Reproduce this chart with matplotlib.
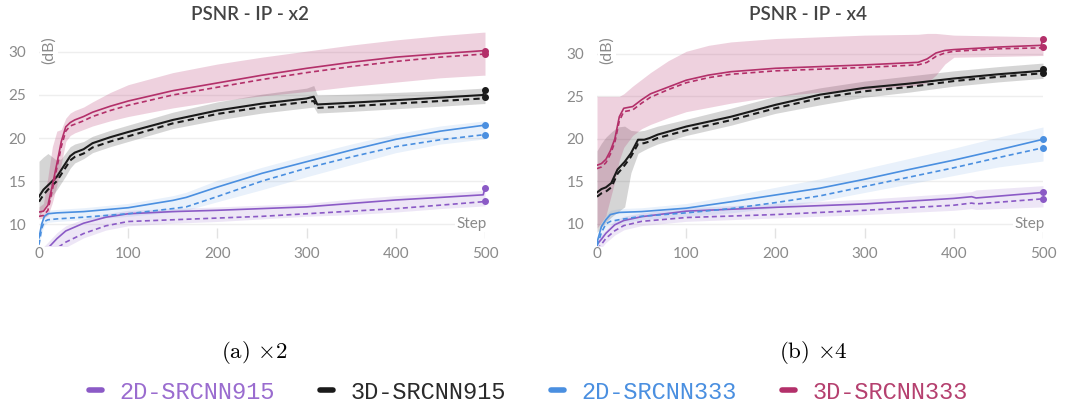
import matplotlib
matplotlib.use('Agg')
import matplotlib.pyplot as plt
from matplotlib.lines import Line2D

plt.rcParams['font.family'] = ['Lato', 'DejaVu Sans']
plt.rcParams['mathtext.fontset'] = 'cm'

# ---- data (x2 panel) ----
x2_crimson_steps = [0, 5, 10, 15, 20, 25, 30, 35, 40, 50, 60, 80, 100, 150, 200, 250, 300, 350, 400, 450, 498, 500]
x2_crimson_solid = [11.4, 11.5, 12.2, 14.5, 17.0, 19.6, 21.3, 21.8, 22.1, 22.5, 23.0, 23.7, 24.3, 25.5, 26.4, 27.3, 28.1, 28.8, 29.4, 29.8, 30.15, 30.15]
x2_crimson_dashed = [10.9, 11.0, 11.6, 14.0, 16.5, 19.0, 20.8, 21.4, 21.6, 22.0, 22.5, 23.2, 23.8, 25.0, 25.9, 26.8, 27.6, 28.3, 28.9, 29.4, 29.75, 29.75]
x2_crimson_lo = [10.6, 10.7, 11.0, 12.5, 14.5, 17.0, 19.6, 20.3, 20.6, 21.0, 21.4, 22.0, 22.5, 23.5, 24.3, 24.9, 25.4, 26.0, 26.5, 27.0, 27.3, 27.3]
x2_crimson_hi = [12.0, 12.4, 15.5, 19.0, 20.8, 21.0, 22.3, 22.9, 23.2, 23.6, 24.2, 25.3, 26.2, 27.6, 28.6, 29.4, 30.1, 30.8, 31.4, 31.9, 32.3, 32.3]

x2_black_steps = [0, 5, 10, 15, 20, 25, 30, 35, 40, 50, 60, 80, 100, 150, 200, 250, 300, 308, 312, 350, 400, 450, 498, 500]
x2_black_solid = [13.2, 14.0, 14.5, 15.0, 15.5, 16.3, 17.1, 17.9, 18.3, 18.7, 19.4, 20.1, 20.7, 22.1, 23.2, 24.0, 24.6, 24.8, 23.9, 24.1, 24.4, 24.7, 25.0, 25.6]
x2_black_dashed = [12.6, 13.4, 14.0, 14.5, 15.0, 15.8, 16.6, 17.4, 17.8, 18.2, 18.9, 19.6, 20.2, 21.7, 22.8, 23.6, 24.2, 24.3, 23.5, 23.7, 24.0, 24.3, 24.6, 24.8]
x2_black_lo = [10.8, 11.8, 12.6, 13.3, 14.0, 14.8, 15.6, 16.5, 17.1, 17.6, 18.3, 19.0, 19.6, 21.1, 22.1, 22.9, 23.5, 23.6, 22.9, 23.1, 23.4, 23.7, 24.0, 24.0]
x2_black_hi = [17.3, 17.8, 18.2, 17.8, 17.4, 17.6, 18.3, 19.0, 19.3, 19.6, 20.2, 20.9, 21.5, 23.0, 24.2, 25.1, 25.8, 26.1, 25.0, 25.1, 25.3, 25.5, 25.8, 25.9]

x2_blue_steps = [0, 3, 6, 10, 20, 50, 100, 150, 165, 200, 250, 300, 350, 400, 450, 500]
x2_blue_solid = [8.4, 10.0, 10.9, 11.2, 11.3, 11.45, 11.9, 12.75, 13.1, 14.3, 15.9, 17.25, 18.6, 19.85, 20.8, 21.5]
x2_blue_dashed = [7.6, 9.5, 10.3, 10.5, 10.6, 10.8, 11.2, 11.8, 12.0, 13.2, 15.0, 16.5, 17.8, 19.0, 19.8, 20.4]
x2_blue_lo = [7.5, 9.0, 9.9, 10.2, 10.3, 10.5, 10.9, 11.4, 11.6, 12.6, 14.0, 15.5, 16.9, 18.3, 19.3, 19.9]
x2_blue_hi = [8.8, 10.4, 11.3, 11.6, 11.7, 11.9, 12.4, 13.3, 13.7, 15.1, 16.6, 18.0, 19.3, 20.5, 21.4, 22.0]

x2_purple_steps = [0, 10, 20, 30, 50, 75, 100, 150, 200, 250, 300, 350, 400, 450, 498, 500]
x2_purple_solid = [6.0, 7.2, 8.3, 9.2, 10.1, 10.8, 11.2, 11.45, 11.6, 11.8, 12.0, 12.4, 12.8, 13.1, 13.4, 14.2]
x2_purple_dashed = [5.5, 6.3, 7.2, 7.9, 8.9, 9.8, 10.3, 10.5, 10.7, 10.9, 11.2, 11.5, 11.8, 12.2, 12.6, 12.7]
x2_purple_lo = [5.0, 5.8, 6.6, 7.3, 8.4, 9.3, 9.8, 10.1, 10.3, 10.6, 10.9, 11.1, 11.4, 11.8, 12.1, 12.1]
x2_purple_hi = [6.8, 7.9, 9.0, 9.8, 10.6, 11.2, 11.6, 11.8, 12.0, 12.2, 12.4, 12.9, 13.3, 13.6, 13.9, 13.9]

# ---- data (x4 panel) ----
x4_crimson_steps = [0, 5, 10, 15, 20, 25, 30, 40, 50, 60, 80, 100, 125, 150, 200, 250, 300, 360, 370, 380, 390, 400, 450, 498, 500]
x4_crimson_solid = [16.9, 17.1, 17.6, 18.6, 20.0, 22.6, 23.6, 23.8, 24.6, 25.3, 26.1, 26.9, 27.5, 27.9, 28.3, 28.5, 28.7, 29.0, 29.4, 30.1, 30.4, 30.5, 30.8, 31.0, 31.8]
x4_crimson_dashed = [16.5, 16.7, 17.2, 18.2, 19.6, 22.1, 23.2, 23.4, 24.2, 24.9, 25.8, 26.6, 27.2, 27.6, 28.0, 28.2, 28.4, 28.7, 29.0, 29.7, 30.1, 30.3, 30.6, 30.7, 30.8]
x4_crimson_lo = [9.5, 10.2, 11.0, 13.0, 15.0, 17.5, 19.0, 20.4, 21.2, 21.7, 22.5, 23.2, 23.7, 24.2, 25.0, 25.5, 25.8, 26.3, 26.6, 27.5, 28.8, 29.6, 29.7, 29.8, 29.8]
x4_crimson_hi = [25.0, 25.0, 25.0, 25.0, 25.0, 25.0, 25.3, 26.2, 27.0, 27.8, 29.2, 30.3, 31.0, 31.4, 31.8, 32.0, 32.2, 32.3, 32.4, 32.4, 32.3, 32.2, 32.1, 32.0, 32.0]

x4_black_steps = [0, 5, 10, 16, 23, 31, 38, 46, 53, 59, 68, 100, 150, 200, 250, 300, 350, 400, 450, 498, 500]
x4_black_solid = [13.7, 14.1, 14.3, 14.8, 16.4, 17.3, 18.3, 19.9, 19.9, 20.1, 20.5, 21.45, 22.6, 24.0, 25.2, 26.0, 26.5, 27.1, 27.6, 28.0, 28.2]
x4_black_dashed = [13.2, 13.6, 13.8, 14.3, 15.9, 16.9, 17.9, 19.4, 19.5, 19.7, 20.1, 21.0, 22.2, 23.6, 24.8, 25.6, 26.1, 26.8, 27.3, 27.7, 27.8]
x4_black_lo = [9.0, 9.6, 10.2, 10.8, 11.4, 12.0, 16.0, 18.3, 18.7, 19.0, 19.4, 20.4, 21.6, 23.0, 24.0, 24.9, 25.5, 26.2, 26.7, 27.1, 27.1]
x4_black_hi = [18.6, 19.5, 20.2, 20.8, 21.4, 21.5, 21.0, 20.9, 21.0, 21.2, 21.5, 22.3, 23.6, 25.0, 26.0, 26.8, 27.4, 28.0, 28.5, 28.9, 28.9]

x4_blue_steps = [0, 5, 10, 15, 25, 50, 100, 150, 200, 250, 300, 350, 400, 450, 500]
x4_blue_solid = [7.8, 9.7, 10.5, 11.1, 11.35, 11.45, 11.85, 12.6, 13.4, 14.2, 15.25, 16.4, 17.5, 18.7, 19.95]
x4_blue_dashed = [7.4, 9.0, 10.0, 10.3, 10.5, 10.9, 11.3, 11.8, 12.5, 13.3, 14.4, 15.5, 16.6, 17.8, 18.95]
x4_blue_lo = [7.0, 8.5, 9.5, 9.9, 10.1, 10.5, 10.9, 11.3, 11.9, 12.7, 13.7, 14.7, 15.7, 16.7, 17.4]
x4_blue_hi = [8.4, 10.2, 11.0, 11.6, 11.8, 11.9, 12.4, 13.3, 14.3, 15.3, 16.5, 17.7, 18.9, 20.2, 21.4]

x4_purple_steps = [0, 5, 10, 20, 30, 50, 100, 200, 300, 400, 420, 425, 500]
x4_purple_solid = [7.6, 8.2, 8.9, 9.9, 10.4, 10.85, 11.5, 11.95, 12.35, 13.0, 13.2, 13.05, 13.7]
x4_purple_dashed = [7.0, 7.6, 8.3, 9.2, 9.8, 10.3, 10.75, 11.1, 11.6, 12.2, 12.45, 12.35, 12.95]
x4_purple_lo = [6.6, 7.2, 7.8, 8.7, 9.3, 9.8, 10.3, 10.7, 11.1, 11.6, 11.8, 11.7, 12.0]
x4_purple_hi = [8.1, 8.7, 9.4, 10.4, 10.9, 11.3, 11.9, 12.4, 12.9, 13.6, 13.8, 14.0, 14.5]

labels = ['2D-SRCNN915', '3D-SRCNN915', '2D-SRCNN333', '3D-SRCNN333']
colors = ['#8b5ac6', '#1a1a1a', '#4a8fe0', '#b3306a']
text_colors = ['#9a6ccf', '#2a2a2a', '#4a8fe0', '#b5406f']
band_alpha = [0.15, 0.18, 0.12, 0.22]

panels = [
    ('PSNR - IP - x2', r'(a) $\times$2', (7.45, 32.55), [
        (x2_purple_steps, x2_purple_solid, x2_purple_dashed, x2_purple_lo, x2_purple_hi),
        (x2_black_steps, x2_black_solid, x2_black_dashed, x2_black_lo, x2_black_hi),
        (x2_blue_steps, x2_blue_solid, x2_blue_dashed, x2_blue_lo, x2_blue_hi),
        (x2_crimson_steps, x2_crimson_solid, x2_crimson_dashed, x2_crimson_lo, x2_crimson_hi),
    ]),
    ('PSNR - IP - x4', r'(b) $\times$4', (7.4, 32.8), [
        (x4_purple_steps, x4_purple_solid, x4_purple_dashed, x4_purple_lo, x4_purple_hi),
        (x4_black_steps, x4_black_solid, x4_black_dashed, x4_black_lo, x4_black_hi),
        (x4_blue_steps, x4_blue_solid, x4_blue_dashed, x4_blue_lo, x4_blue_hi),
        (x4_crimson_steps, x4_crimson_solid, x4_crimson_dashed, x4_crimson_lo, x4_crimson_hi),
    ]),
]

fig = plt.figure(figsize=(10.71, 4.08), dpi=100)
lefts = [39 / 1071, 597 / 1071]
title_x = [250 / 1071, 808 / 1071]
caption_x = [254 / 1071, 813 / 1071]

for i, (title, caption, ylim, series) in enumerate(panels):
    ax = fig.add_axes([lefts[i], 0.397, 446 / 1071, 0.5294])
    ax.set_xlim(0, 500)
    ax.set_ylim(*ylim)

    # bands first, lines on top
    for (steps, solid, dashed, lo, hi), c, a in zip(series, colors, band_alpha):
        ax.fill_between(steps, lo, hi, color=c, alpha=a, linewidth=0)
    for (steps, solid, dashed, lo, hi), c in zip(series, colors):
        lw = 1.5 if c == '#1a1a1a' else 1.2
        ax.plot(steps, solid, color=c, lw=lw)
        ax.plot(steps, dashed, color=c, lw=lw, linestyle=(0, (3, 2)))
        ax.plot(steps[-1], solid[-1], 'o', color=c, ms=4, clip_on=False)
        ax.plot(steps[-1], dashed[-1], 'o', color=c, ms=4, clip_on=False)

    for s in ax.spines.values():
        s.set_visible(False)
    ax.set_yticks([10, 15, 20, 25, 30])
    ax.set_xticks([0, 100, 200, 300, 400, 500])
    ax.grid(axis='y', color='#eeeeee', lw=1)
    ax.set_axisbelow(True)
    ax.tick_params(axis='y', length=0, pad=9, labelsize=11, labelcolor='#8a8a8a')
    ax.tick_params(axis='x', length=0, pad=1, labelsize=11, labelcolor='#8a8a8a')
    # short light tick marks above the x axis
    ax.vlines([100, 200, 300, 400, 500], 0.037, 0.083, transform=ax.get_xaxis_transform(),
              color='#e2e2e2', lw=1, zorder=0)

    ax.text(0.0224, 0.907, '(dB)', transform=ax.transAxes, rotation=90, ha='center', va='center',
            fontsize=11.5, color='#8a8a8a', bbox=dict(facecolor='white', edgecolor='none', pad=1))
    ax.text(1.004, 0.102, 'Step', transform=ax.transAxes, ha='right', va='center',
            fontsize=11, color='#8a8a8a', bbox=dict(facecolor='white', edgecolor='none', pad=1))

    fig.text(title_x[i], 1 - 14 / 408, title, ha='center', va='center', fontsize=13.5,
             fontweight='semibold', color='#444444')
    fig.text(caption_x[i], 1 - 353 / 408, caption, ha='center', va='center', fontsize=16.5,
             family='cmr10', color='black')

handles = [Line2D([], [], color=c, lw=4, solid_capstyle='round') for c in colors]
leg = fig.legend(handles, labels, loc='center', bbox_to_anchor=(0.4935, 0.039), ncol=4,
                 frameon=False, prop=dict(family='Liberation Mono', size=17),
                 handlelength=0.55, handletextpad=0.75, columnspacing=1.9)
for t, c in zip(leg.get_texts(), text_colors):
    t.set_color(c)

plt.savefig('out.png', dpi=100)
plt.close()
